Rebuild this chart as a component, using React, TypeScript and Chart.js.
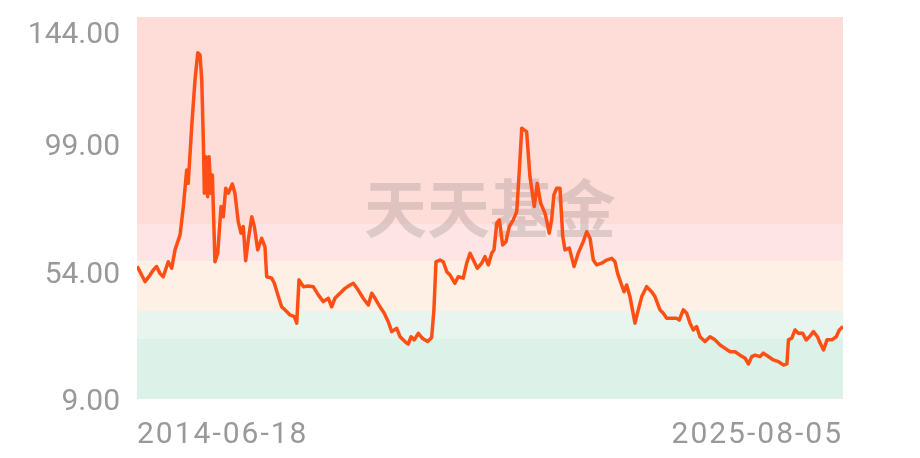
import React, { useEffect, useRef } from "react";
import { Chart, registerables } from "chart.js";

Chart.register(...registerables);

// ---- data ----
const startDate = "2014-06-18";
const endOffset = 4066; // 2025-08-05

const dayOffsets = [
  0, 7, 46, 75, 94, 113, 132, 151, 180, 200, 219, 248, 267, 286, 295, 315, 334, 350, 363, 373,
  382, 388, 397, 407, 415, 426, 434, 449, 465, 484, 497, 511, 526, 549, 564, 583, 599, 612, 626, 641,
  661, 676, 695, 718, 737, 747, 776, 791, 814, 833, 862, 881, 906, 920, 933, 958, 987, 1015, 1044, 1073,
  1102, 1121, 1140, 1169, 1198, 1227, 1246, 1274, 1303, 1332, 1352, 1371, 1399, 1424, 1447, 1467, 1496, 1515, 1543, 1562,
  1578, 1597, 1620, 1643, 1674, 1697, 1710, 1722, 1745, 1764, 1784, 1803, 1831, 1850, 1879, 1899, 1918, 1937, 1960, 1985,
  2004, 2023, 2043, 2056, 2072, 2087, 2106, 2125, 2144, 2167, 2187, 2202, 2216, 2229, 2244, 2263, 2288, 2305, 2325, 2350,
  2363, 2374, 2388, 2401, 2417, 2436, 2452, 2465, 2490, 2517, 2541, 2570, 2590, 2609, 2628, 2647, 2676, 2705, 2734, 2753,
  2768, 2791, 2805, 2820, 2839, 2868, 2887, 2907, 2935, 2964, 2983, 3012, 3031, 3051, 3079, 3108, 3123, 3146, 3166, 3185,
  3204, 3223, 3242, 3271, 3300, 3329, 3358, 3387, 3416, 3444, 3473, 3502, 3521, 3541, 3560, 3588, 3607, 3636, 3665, 3694,
  3723, 3743, 3752, 3771, 3790, 3809, 3834, 3854, 3873, 3896, 3919, 3935, 3954, 3974, 4002, 4027, 4045, 4066,
];

const navValues = [
  55.9, 55.2, 50.5, 52.8, 54.6, 55.8, 53.4, 52.2, 57.5, 55.2, 61.7, 67.0, 77.0, 89.9, 85.2, 105.2, 121.7, 131.4, 130.6, 121.7,
  100.5, 81.7, 94.6, 80.5, 94.6, 81.7, 88.2, 57.5, 60.5, 77.0, 73.4, 83.5, 81.7, 85.0, 81.7, 71.7, 67.6, 69.9, 57.9, 65.2,
  73.4, 69.9, 61.7, 65.8, 62.8, 52.2, 51.7, 49.9, 45.2, 41.6, 39.9, 38.7, 38.1, 35.8, 51.1, 48.7, 48.9, 48.7, 45.8, 43.4,
  44.6, 41.6, 44.6, 46.4, 48.1, 49.3, 49.9, 47.5, 44.6, 42.2, 46.4, 44.6, 41.6, 39.3, 36.3, 32.8, 34.0, 31.0, 29.3, 28.4,
  31.0, 29.9, 32.2, 30.5, 29.3, 30.7, 40.5, 57.5, 58.1, 57.5, 54.0, 52.8, 49.9, 52.2, 51.7, 57.0, 60.5, 58.1, 55.2, 57.0,
  59.3, 56.4, 60.5, 61.7, 71.1, 72.3, 63.4, 64.6, 69.9, 72.3, 75.2, 89.9, 104.7, 104.1, 103.5, 87.6, 77.0, 85.2, 78.2, 74.6,
  71.1, 67.6, 72.3, 81.1, 83.5, 83.5, 66.4, 61.7, 62.3, 55.8, 60.5, 64.6, 68.1, 65.8, 58.1, 56.4, 57.0, 58.1, 58.7, 57.5,
  53.4, 49.3, 46.9, 49.3, 45.2, 35.8, 40.5, 45.2, 48.7, 46.9, 45.2, 40.5, 39.3, 37.5, 37.5, 37.5, 36.9, 40.5, 39.3, 35.8,
  33.4, 34.6, 31.0, 29.3, 31.0, 29.9, 28.1, 26.9, 25.7, 25.7, 24.5, 23.4, 21.4, 24.0, 24.5, 24.0, 25.2, 24.0, 22.8, 22.2,
  21.0, 21.4, 29.9, 30.5, 33.4, 32.2, 32.2, 29.9, 31.0, 32.8, 31.0, 28.7, 26.3, 29.9, 29.9, 31.0, 33.4, 34.6,
];

const yTickValues = [9, 54, 99, 144];
const bandBounds = [9, 30.2, 40.1, 57.8, 70.85, 144];
const bandColors = ["#dcf2e8", "#e8f5ef", "#fef0e4", "#fee4e4", "#fedcd8"];
const watermarkText = "天天基金";

const LABEL_FONT = "Roboto";
const LABEL_COLOR = "#999999";
const LINE_COLOR = "#ff4f14";

function fmtDate(offset: number): string {
  const t = Date.parse(startDate + "T00:00:00Z") + Math.round(offset) * 86400000;
  return new Date(t).toISOString().slice(0, 10);
}

const spacingPlugin = {
  id: "labelSpacing",
  beforeDraw(chart: any) {
    (chart.ctx as any).letterSpacing = "2px";
  },
  afterDraw(chart: any) {
    (chart.ctx as any).letterSpacing = "0px";
  },
};

const bandsPlugin = {
  id: "bandsAndWatermark",
  beforeDatasetsDraw(chart: any) {
    const { ctx, chartArea: a, scales } = chart;
    const y = scales.y;
    ctx.save();
    (ctx as any).letterSpacing = "0px";
    for (let i = 0; i < bandColors.length; i++) {
      const top = y.getPixelForValue(bandBounds[i + 1]);
      const bot = y.getPixelForValue(bandBounds[i]);
      ctx.fillStyle = bandColors[i];
      ctx.fillRect(a.left, top, a.right - a.left, bot - top);
    }
    ctx.font = "bold 63px 'Noto Sans CJK SC'";
    ctx.fillStyle = "rgba(150,138,138,0.30)";
    ctx.textAlign = "center";
    ctx.textBaseline = "middle";
    ctx.fillText(watermarkText, (a.left + a.right) / 2, (a.top + a.bottom) / 2);
    ctx.restore();
  },
};

const yLabelPlugin = {
  id: "yLabels",
  afterDraw(chart: any) {
    const { ctx, chartArea: a, scales } = chart;
    const y = scales.y;
    ctx.save();
    (ctx as any).letterSpacing = "0px";
    ctx.font = `30px ${LABEL_FONT}`;
    ctx.fillStyle = LABEL_COLOR;
    ctx.textAlign = "right";
    ctx.textBaseline = "alphabetic";
    yTickValues.forEach((v) => {
      const py = Math.max(y.getPixelForValue(v), a.top + 15);
      ctx.fillText(v.toFixed(2), a.left - 17, py + 11);
    });
    ctx.restore();
  },
};

export default function App() {
  const canvasRef = useRef<HTMLCanvasElement | null>(null);

  useEffect(() => {
    document.body.style.margin = "0";
    const canvas = canvasRef.current;
    if (!canvas) return;
    const chart = new Chart(canvas, {
      type: "line",
      data: {
        datasets: [
          {
            data: dayOffsets.map((d, i) => ({ x: d, y: navValues[i] })),
            borderColor: LINE_COLOR,
            borderWidth: 3.5,
            pointRadius: 0,
            tension: 0,
            fill: false,
            borderJoinStyle: "round",
          },
        ],
      },
      options: {
        animation: false,
        responsive: false,
        maintainAspectRatio: false,
        devicePixelRatio: 1,
        layout: { padding: { top: 17, right: 77, left: 0, bottom: 0 } },
        plugins: { legend: { display: false }, tooltip: { enabled: false } },
        scales: {
          x: {
            type: "linear",
            min: 0,
            max: endOffset,
            grid: { display: false },
            border: { display: false },
            afterBuildTicks: (scale: any) => {
              scale.ticks = [{ value: 0 }, { value: endOffset }];
            },
            afterFit: (scale: any) => {
              scale.height = 59;
            },
            ticks: {
              align: "inner",
              maxRotation: 0,
              autoSkip: false,
              padding: 10,
              color: LABEL_COLOR,
              font: { family: LABEL_FONT, size: 30 },
              callback: (v: any) => fmtDate(Number(v)),
            },
          },
          y: {
            min: 9,
            max: 144,
            grid: { display: false },
            border: { display: false },
            afterBuildTicks: (scale: any) => {
              scale.ticks = yTickValues.map((v) => ({ value: v }));
            },
            afterFit: (scale: any) => {
              scale.width = 137;
            },
            ticks: { display: false },
          },
        },
      },
      plugins: [spacingPlugin, bandsPlugin, yLabelPlugin],
    } as any);
    return () => chart.destroy();
  }, []);

  return (
    <div style={{ width: 920, height: 458 }}>
      <canvas ref={canvasRef} width={920} height={458} style={{ display: "block" }} />
    </div>
  );
}
